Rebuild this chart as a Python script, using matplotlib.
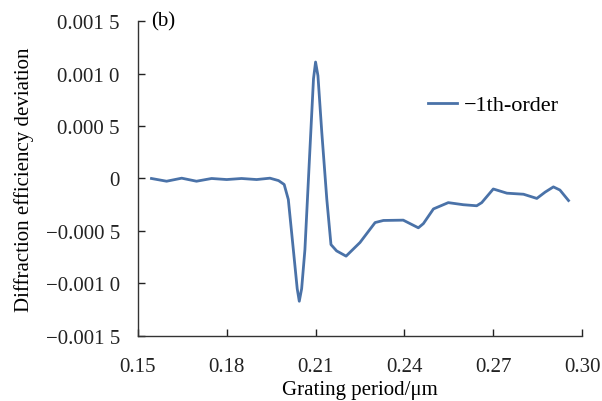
import matplotlib
matplotlib.use('Agg')
import matplotlib.pyplot as plt
import numpy as np

plt.rcParams['font.family'] = ['Liberation Serif', 'DejaVu Serif']
plt.rcParams['mathtext.fontset'] = 'stix'

# grating period (um) and -1th order deviation
period = [0.1546, 0.1597, 0.1648, 0.1698, 0.1749, 0.1800, 0.1850, 0.1901,
          0.1946, 0.1975, 0.1994, 0.2008, 0.2025, 0.2038, 0.2045, 0.2053, 0.2064,
          0.2081, 0.2093, 0.2100, 0.2108, 0.2121, 0.2138, 0.2152, 0.2171,
          0.2203, 0.2250, 0.2301, 0.2329, 0.2396, 0.2419, 0.2447, 0.2464,
          0.2498, 0.2548, 0.2599, 0.2644, 0.2661, 0.2700, 0.2746, 0.2802,
          0.2847, 0.2875, 0.2903, 0.2925, 0.2954]
deviation = [0.0, -0.000026, 0.000003, -0.000026, 0.0, -0.00001, 0.0, -0.00001,
             0.000003, -0.00002, -0.000057, -0.0002, -0.00068, -0.00105, -0.00117, -0.00105, -0.00068,
             0.00028, 0.00095, 0.00111, 0.00098, 0.00044, -0.0002, -0.00063, -0.00069,
             -0.00074, -0.00061, -0.00042, -0.0004, -0.000397, -0.00043, -0.00047, -0.00043,
             -0.00029, -0.00023, -0.00025, -0.00026, -0.00023, -0.0001, -0.00014, -0.00015,
             -0.00019, -0.00013, -0.00008, -0.00011, -0.00021]

xticks = [0.15, 0.18, 0.21, 0.24, 0.27, 0.30]
xlabels = ['0.15', '0.18', '0.21', '0.24', '0.27', '0.30']
yticks = [0.0015, 0.0010, 0.0005, 0, -0.0005, -0.0010, -0.0015]
ylabels = ['0.001 5', '0.001 0', '0.000 5', '0', '\u22120.000 5', '\u22120.001 0', '\u22120.001 5']

fig = plt.figure(figsize=(6.02, 4.02), dpi=100)
ax = fig.add_axes([0.229, 0.162, 0.738, 0.783])

ax.plot(period, deviation, color='#4a72a8', linewidth=2.0, label='\u22121th-order',
        solid_joinstyle='round')

ax.set_xlim(0.15, 0.30)
ax.set_ylim(-0.0015, 0.0015)
ax.set_xticks(xticks)
ax.set_xticklabels(xlabels)
ax.set_yticks(yticks)
ax.set_yticklabels(ylabels)
ax.tick_params(direction='in', length=5, width=1, labelsize=15, colors='#222222')
ax.tick_params(axis='y', pad=13)
ax.tick_params(axis='x', pad=15)

for s in ['top', 'right']:
    ax.spines[s].set_visible(False)
for s in ['left', 'bottom']:
    ax.spines[s].set_linewidth(1.0)
    ax.spines[s].set_color('#333333')

ax.set_xlabel('Grating period/\u03bcm', fontsize=15, labelpad=3)
ax.set_ylabel('Diffraction efficiency deviation', fontsize=15, labelpad=8)
ax.text(0.03, 1.0, '(b)', transform=ax.transAxes, fontsize=15, va='center', ha='left')

ax.legend(loc='center left', bbox_to_anchor=(0.653, 0.733), frameon=False, fontsize=16,
          handlelength=1.3, handletextpad=0.3, borderpad=0, borderaxespad=0)

fig.savefig('out.png', dpi=100)
